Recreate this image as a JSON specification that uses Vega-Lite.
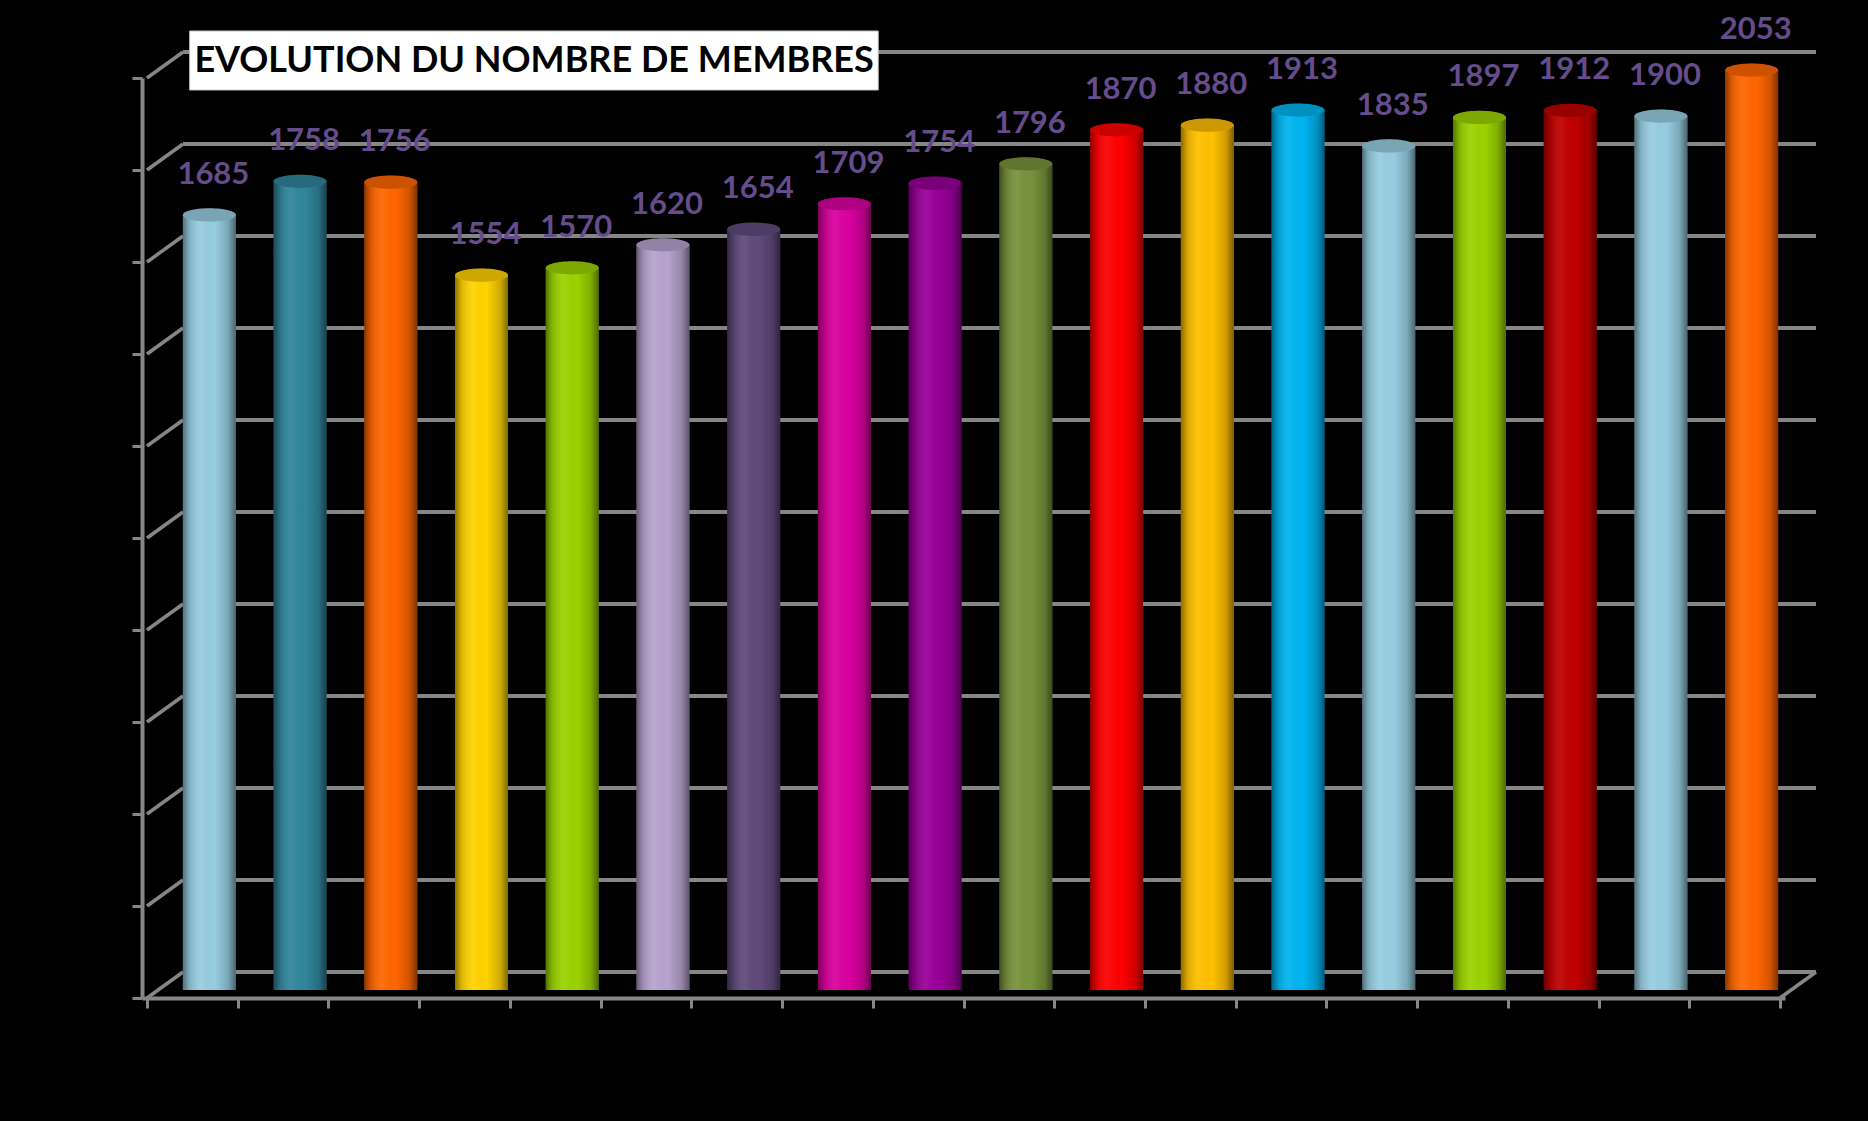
{
  "$schema": "https://vega.github.io/schema/vega-lite/v6.json",
  "width": 1643,
  "height": 920,
  "autosize": {"type": "none"},
  "padding": {"left": 142, "top": 78, "right": 83, "bottom": 123},
  "background": "#000000",
  "view": {"stroke": null},
  "datasets": {
    "membres": [
      {"rang": 1, "membres": 1685},
      {"rang": 2, "membres": 1758},
      {"rang": 3, "membres": 1756},
      {"rang": 4, "membres": 1554},
      {"rang": 5, "membres": 1570},
      {"rang": 6, "membres": 1620},
      {"rang": 7, "membres": 1654},
      {"rang": 8, "membres": 1709},
      {"rang": 9, "membres": 1754},
      {"rang": 10, "membres": 1796},
      {"rang": 11, "membres": 1870},
      {"rang": 12, "membres": 1880},
      {"rang": 13, "membres": 1913},
      {"rang": 14, "membres": 1835},
      {"rang": 15, "membres": 1897},
      {"rang": 16, "membres": 1912},
      {"rang": 17, "membres": 1900},
      {"rang": 18, "membres": 2053}
    ],
    "niveaux": [
      {"v": 0}, {"v": 200}, {"v": 400}, {"v": 600}, {"v": 800}, {"v": 1000},
      {"v": 1200}, {"v": 1400}, {"v": 1600}, {"v": 1800}, {"v": 2000}
    ]
  },
  "layer": [
    {
      "data": {"name": "niveaux"},
      "mark": {"type": "rule", "color": "#868686", "strokeWidth": 4, "xOffset": 36, "x2Offset": 36, "yOffset": -26, "y2Offset": -26},
      "encoding": {
        "x": {"datum": 0.5, "type": "quantitative", "scale": {"domain": [0.5, 18.5], "nice": false, "zero": false}},
        "x2": {"datum": 18.5},
        "y": {"field": "v", "type": "quantitative", "scale": {"domain": [0, 2000], "nice": false, "clamp": true}}
      }
    },
    {
      "data": {"name": "niveaux"},
      "mark": {"type": "rule", "color": "#868686", "strokeWidth": 3.5, "x2Offset": 36, "y2Offset": -26},
      "encoding": {
        "x": {"datum": 0.5, "type": "quantitative"},
        "x2": {"datum": 0.5},
        "y": {"field": "v", "type": "quantitative"},
        "y2": {"field": "v"}
      }
    },
    {
      "data": {"name": "niveaux"},
      "transform": [{"filter": "datum.v == 0"}],
      "mark": {"type": "rule", "color": "#868686", "strokeWidth": 3.5, "x2Offset": 36, "y2Offset": -26},
      "encoding": {
        "x": {"datum": 18.5, "type": "quantitative"},
        "x2": {"datum": 18.5},
        "y": {"field": "v", "type": "quantitative"},
        "y2": {"field": "v"}
      }
    },
    {
      "data": {"name": "membres"},
      "mark": {"type": "bar", "width": 53, "xOffset": 17, "yOffset": -8, "y2Offset": -8},
      "encoding": {
        "x": {"field": "rang", "type": "quantitative",
          "axis": {"values": [0.5,1.5,2.5,3.5,4.5,5.5,6.5,7.5,8.5,9.5,10.5,11.5,12.5,13.5,14.5,15.5,16.5,17.5,18.5],
            "labels": false, "title": null, "grid": false, "domainColor": "#868686", "domainWidth": 4,
            "tickColor": "#868686", "tickWidth": 3, "tickSize": 10}},
        "y": {"field": "membres", "type": "quantitative",
          "axis": {"values": [0,200,400,600,800,1000,1200,1400,1600,1800,2000],
            "labels": false, "title": null, "grid": false, "domainColor": "#868686", "domainWidth": 4,
            "tickColor": "#868686", "tickWidth": 3, "tickSize": 10}},
        "color": {"field": "rang", "type": "nominal", "legend": null,
          "scale": {"domain": [1,2,3,4,5,6,7,8,9,10,11,12,13,14,15,16,17,18],
            "range": ["#96CDE0","#31859C","#FF6600","#FFD200","#9BD300","#B7A3CF","#604A7B","#DA00A0","#990099","#77933C","#FF0000","#FFC000","#00B4F0","#96CDE0","#9BD300","#C00000","#96CDE0","#FF6600"]}}
      }
    },
    {
      "data": {"name": "membres"},
      "mark": {"type": "bar", "width": 53, "xOffset": 17, "yOffset": -8, "y2Offset": -8,
        "fill": {"gradient": "linear", "x1": 0, "y1": 0, "x2": 1, "y2": 0,
          "stops": [
            {"offset": 0, "color": "rgba(0,0,0,0.45)"},
            {"offset": 0.12, "color": "rgba(0,0,0,0.15)"},
            {"offset": 0.35, "color": "rgba(255,255,255,0.06)"},
            {"offset": 0.6, "color": "rgba(0,0,0,0)"},
            {"offset": 0.85, "color": "rgba(0,0,0,0.18)"},
            {"offset": 1, "color": "rgba(0,0,0,0.5)"}
          ]}},
      "encoding": {
        "x": {"field": "rang", "type": "quantitative"},
        "y": {"field": "membres", "type": "quantitative"}
      }
    },
    {
      "data": {"name": "membres"},
      "mark": {"type": "point", "filled": true, "opacity": 1, "size": 2809, "xOffset": 17, "yOffset": -8,
        "shape": "M -1 0 A 1 0.25 0 1 1 1 0 A 1 0.25 0 1 1 -1 0 Z"},
      "encoding": {
        "x": {"field": "rang", "type": "quantitative"},
        "y": {"field": "membres", "type": "quantitative"},
        "color": {"field": "rang", "type": "nominal", "legend": null}
      }
    },
    {
      "data": {"name": "membres"},
      "mark": {"type": "point", "filled": true, "opacity": 1, "size": 2809, "xOffset": 17, "yOffset": -8,
        "color": "rgba(0,0,0,0.2)",
        "shape": "M -1 0 A 1 0.25 0 1 1 1 0 A 1 0.25 0 1 1 -1 0 Z"},
      "encoding": {
        "x": {"field": "rang", "type": "quantitative"},
        "y": {"field": "membres", "type": "quantitative"}
      }
    },
    {
      "data": {"name": "membres"},
      "mark": {"type": "text", "font": "Lato", "fontWeight": "bold", "fontSize": 31, "color": "#654D8C",
        "align": "center", "baseline": "middle", "dx": 21, "dy": -48},
      "encoding": {
        "x": {"field": "rang", "type": "quantitative"},
        "y": {"field": "membres", "type": "quantitative"},
        "text": {"field": "membres", "type": "quantitative", "format": "d"}
      }
    },
    {
      "data": {"values": [{"titre": "EVOLUTION DU NOMBRE DE MEMBRES"}]},
      "mark": {"type": "rect", "color": "#FFFFFF", "stroke": "#BFBFBF", "strokeWidth": 1, "yOffset": -47, "y2Offset": 12},
      "encoding": {
        "x": {"datum": 0.97, "type": "quantitative"},
        "x2": {"datum": 8.56},
        "y": {"datum": 2000, "type": "quantitative"},
        "y2": {"datum": 2000}
      }
    },
    {
      "data": {"values": [{"titre": "EVOLUTION DU NOMBRE DE MEMBRES"}]},
      "mark": {"type": "text", "font": "Lato", "fontWeight": "bold", "fontSize": 36, "color": "#000000",
        "align": "center", "baseline": "middle", "yOffset": -17},
      "encoding": {
        "x": {"datum": 4.767, "type": "quantitative"},
        "y": {"datum": 2000, "type": "quantitative"},
        "text": {"field": "titre", "type": "nominal"}
      }
    }
  ]
}
